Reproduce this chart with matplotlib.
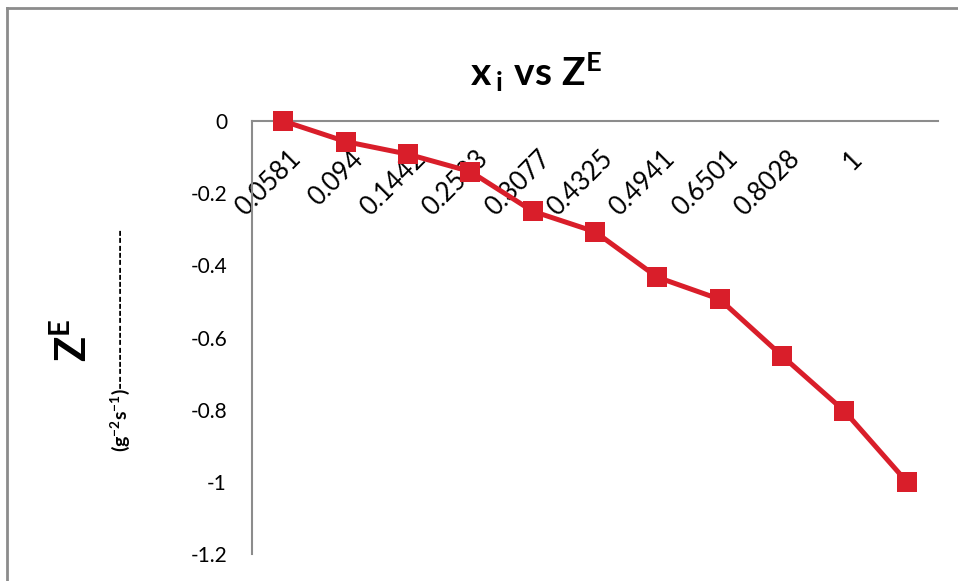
import matplotlib
matplotlib.use("Agg")
import matplotlib.pyplot as plt
import matplotlib.transforms as mtransforms
from matplotlib.lines import Line2D

plt.rcParams['font.family'] = ['Lato', 'DejaVu Sans']
plt.rcParams['mathtext.fontset'] = 'custom'
plt.rcParams['mathtext.rm'] = 'Lato'
plt.rcParams['mathtext.bf'] = 'Lato:bold'
plt.rcParams['mathtext.it'] = 'Lato:italic'

# data
x_labels = ["0.0581", "0.094", "0.1442", "0.2533", "0.3077", "0.4325",
            "0.4941", "0.6501", "0.8028", "1", ""]
z_e = [0, -0.057, -0.092, -0.14, -0.25, -0.307, -0.433, -0.494, -0.651, -0.804, -1.0]

fig = plt.figure(figsize=(9.58, 5.81), dpi=100)
ax = fig.add_axes([252 / 958, 1 - 554 / 581, 686 / 958, 433 / 581])

pos = list(range(len(z_e)))
ax.plot(pos, z_e, color='#D91E2A', lw=3.6, marker='s', markersize=14,
        markeredgewidth=0, clip_on=False, zorder=3)

ax.set_xlim(-0.5, len(z_e) - 0.5)
ax.set_ylim(-1.2, 0)
ax.set_yticks([0, -0.2, -0.4, -0.6, -0.8, -1, -1.2])
ax.set_yticklabels(['0', '-0.2', '-0.4', '-0.6', '-0.8', '-1', '-1.2'])

# category axis sits at y = 0
ax.spines['bottom'].set_position(('data', 0))
ax.spines['top'].set_visible(False)
ax.spines['right'].set_visible(False)
for s in ['bottom', 'left']:
    ax.spines[s].set_color('#8c8c8c')
    ax.spines[s].set_linewidth(1.5)

ax.set_xticks(pos)
ax.set_xticklabels(x_labels, rotation=45, ha='right', va='top', rotation_mode='anchor')
ax.tick_params(axis='x', length=0, pad=18, labelsize=18.5)
ax.tick_params(axis='y', length=0, pad=18, labelsize=15)
shift = mtransforms.ScaledTranslation(5 / 100, 0, fig.dpi_scale_trans)
for lab in ax.get_xticklabels():
    lab.set_transform(lab.get_transform() + shift)

fig.text(536 / 958, 1 - 72 / 581,
         r'$\mathbf{x}\,{}_{\mathbf{i}}\ \mathbf{vs}\ \mathbf{Z}^{\mathbf{E}}$',
         ha='center', va='center', fontsize=28)
fig.text(73 / 958, 1 - 340 / 581, r'$\mathbf{Z}^{\mathbf{E}}$',
         rotation=90, ha='center', va='center', fontsize=30)
fig.text(120 / 958, 1 - 340 / 581,
         r'$\mathbf{(g^{-2}s^{-1})}$' + '-' * 22,
         rotation=90, ha='center', va='center', fontsize=14, fontweight='bold')

# chart frame (top and left edges)
fig.add_artist(Line2D([7 / 958, 7 / 958], [0, 1 - 8 / 581], transform=fig.transFigure,
                      color='#8c8c8c', lw=2))
fig.add_artist(Line2D([7 / 958, 1], [1 - 8 / 581, 1 - 8 / 581], transform=fig.transFigure,
                      color='#8c8c8c', lw=2))

fig.savefig('out.png', dpi=100)
